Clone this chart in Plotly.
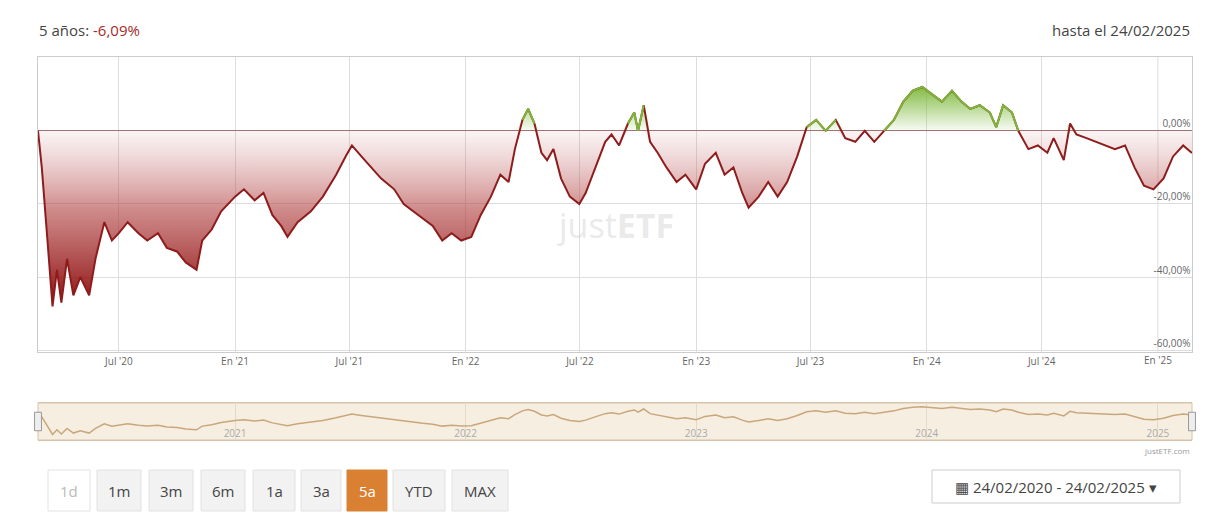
import plotly.graph_objects as go
import numpy as np

dates = ["2020-02-24","2020-03-01","2020-03-10","2020-03-18","2020-03-25","2020-04-01","2020-04-10","2020-04-20","2020-05-01","2020-05-15","2020-05-25","2020-06-08","2020-06-20","2020-07-01","2020-07-15","2020-08-01","2020-08-15","2020-09-01","2020-09-15","2020-10-01","2020-10-15","2020-11-01","2020-11-10","2020-11-25","2020-12-10","2021-01-01","2021-01-15","2021-02-01","2021-02-15","2021-03-01","2021-03-15","2021-03-25","2021-04-10","2021-05-01","2021-05-20","2021-06-10","2021-06-25","2021-07-05","2021-07-20","2021-08-05","2021-08-20","2021-09-10","2021-09-25","2021-10-10","2021-10-25","2021-11-10","2021-11-25","2021-12-10","2021-12-25","2022-01-10","2022-01-25","2022-02-10","2022-02-25","2022-03-10","2022-03-20","2022-04-01","2022-04-10","2022-04-20","2022-05-01","2022-05-10","2022-05-20","2022-06-01","2022-06-15","2022-06-30","2022-07-10","2022-07-25","2022-08-10","2022-08-20","2022-09-01","2022-09-15","2022-09-25","2022-10-01","2022-10-10","2022-10-20","2022-11-01","2022-11-15","2022-12-01","2022-12-15","2023-01-01","2023-01-15","2023-02-01","2023-02-15","2023-03-01","2023-03-15","2023-03-25","2023-04-10","2023-04-25","2023-05-10","2023-05-25","2023-06-10","2023-06-25","2023-07-10","2023-07-25","2023-08-10","2023-08-25","2023-09-10","2023-09-25","2023-10-10","2023-10-25","2023-11-10","2023-11-25","2023-12-10","2023-12-25","2024-01-10","2024-01-25","2024-02-10","2024-02-25","2024-03-10","2024-03-25","2024-04-10","2024-04-20","2024-05-01","2024-05-15","2024-05-25","2024-06-10","2024-06-25","2024-07-10","2024-07-20","2024-08-05","2024-08-15","2024-08-25","2024-09-10","2024-09-25","2024-10-10","2024-10-25","2024-11-10","2024-11-25","2024-12-10","2024-12-25","2025-01-10","2025-01-25","2025-02-10","2025-02-24"]
values = [0,-10,-30,-48,-38,-47,-35,-45,-40,-45,-35,-25,-30,-28,-25,-28,-30,-28,-32,-33,-36,-38,-30,-27,-22,-18,-16,-19,-17,-23,-26,-29,-25,-22,-18,-12,-7,-4,-7,-10,-13,-16,-20,-22,-24,-26,-30,-28,-30,-29,-23,-18,-12,-14,-5,3,6,2,-6,-8,-5,-13,-18,-20,-17,-10,-3,-1,-4,2,5,0,7,-3,-6,-10,-14,-12,-16,-9,-6,-12,-10,-17,-21,-18,-14,-18,-14,-7,1,3,0,3,-2,-3,0,-3,0,3,8,11,12,10,8,11,8,6,7,5,1,7,5,0,-5,-4,-6,-2,-8,2,-1,-2,-3,-4,-5,-4,-10,-15,-16,-13,-7,-4,-6.09]
tick_vals = ["2020-07-01","2021-01-01","2021-07-01","2022-01-01","2022-07-01","2023-01-01","2023-07-01","2024-01-01","2024-07-01","2025-01-01"]
tick_text = ["Jul '20","En '21","Jul '21","En '22","Jul '22","En '23","Jul '23","En '24","Jul '24","En '25"]
nav_ticks = ["2021-01-01","2022-01-01","2023-01-01","2024-01-01","2025-01-01"]
nav_text = ["2021","2022","2023","2024","2025"]
y_ticks = [0,-20,-40,-60]
y_text = ["0,00%","-20,00%","-40,00%","-60,00%"]
buttons = ["1d","1m","3m","6m","1a","3a","5a","YTD","MAX"]

RED = "#8e1c1c"; GREEN = "#7cb83a"
v = np.array(values, dtype=float)
neg = np.minimum(v, 0); pos = np.maximum(v, 0)
green_line = [x if x >= 0 else None for x in v]

OFF = 8
W, H = 1214 - 2*OFF, 520 - 2*OFF
L, R = 38 - OFF, 1192 - OFF
PW = R - L
def px(x): return (x - OFF - L) / PW
def py(y): return 1 - (y - OFF) / H

fig = go.Figure()
fig.add_trace(go.Scatter(x=dates, y=neg, mode="lines", line=dict(width=0), fill="tozeroy",
    fillgradient=dict(type="vertical", colorscale=[[0,"rgba(140,15,15,1)"],[0.55,"rgba(175,60,60,0.6)"],[1,"rgba(200,120,120,0.08)"]]),
    hoverinfo="skip"))
fig.add_trace(go.Scatter(x=dates, y=pos, mode="lines", line=dict(width=0), fill="tozeroy",
    fillgradient=dict(type="vertical", colorscale=[[0,"rgba(124,184,58,0.05)"],[1,"rgba(124,184,58,0.95)"]]),
    hoverinfo="skip"))
fig.add_trace(go.Scatter(x=dates, y=v, mode="lines", line=dict(color=RED, width=2)))
fig.add_trace(go.Scatter(x=dates, y=green_line, mode="lines", line=dict(color=GREEN, width=2), connectgaps=False))
fig.add_trace(go.Scatter(x=dates, y=v, mode="lines", line=dict(color="#c9a77c", width=1.5),
    xaxis="x2", yaxis="y2"))

fig.update_layout(
    width=W, height=H, showlegend=False,
    margin=dict(l=L, r=W - R, t=0, b=0), plot_bgcolor="white", paper_bgcolor="white",
    font=dict(family="Open Sans", color="#555"),
    xaxis=dict(domain=[0,1], range=["2020-02-24","2025-02-24"], tickmode="array", tickvals=tick_vals[:-1], ticktext=tick_text[:-1],
               showgrid=True, gridcolor="#ddd", tickfont=dict(size=10, color="#666"),
               showline=True, linecolor="#ccc", mirror=True, ticks=""),
    yaxis=dict(domain=[py(352), py(57)], range=[-60.5,20.2], side="right", tickvals=y_ticks, ticktext=y_text,
               ticklabelposition="inside top", tickfont=dict(size=10, color="#666"),
               showgrid=True, gridcolor="#ddd", zeroline=True, zerolinecolor="#a07070", zerolinewidth=1,
               showline=True, linecolor="#ccc", mirror=True),
    xaxis2=dict(domain=[0,1], anchor="y2", range=["2020-02-24","2025-02-24"], tickvals=nav_ticks, ticktext=nav_text,
                ticklabelposition="inside", tickfont=dict(size=10, color="#aaa"), showgrid=True, gridcolor="#e6d9c6",
                showline=True, linecolor="#d8c4a8", mirror=True),
    yaxis2=dict(domain=[py(440), py(403)], anchor="x2", range=[-60,20], showticklabels=False, showgrid=False, zeroline=False),
)
fig.add_shape(type="line", xref="x", yref="y domain", x0=tick_vals[-1], x1=tick_vals[-1], y0=0, y1=1,
              line=dict(color="#ddd", width=1), layer="below")
fig.add_annotation(xref="x", yref="paper", x=tick_vals[-1], y=py(360), yanchor="middle", showarrow=False,
                   text=tick_text[-1], font=dict(size=10, color="#666"))

fig.add_shape(type="rect", xref="x2 domain", yref="y2 domain", x0=0, x1=1, y0=0, y1=1,
              fillcolor="rgba(230,205,170,0.35)", line=dict(color="#d8c4a8", width=1), layer="below")
for xx in [0, 1]:
    fig.add_shape(type="rect", xref="x2 domain", yref="y2 domain", x0=xx-0.003, x1=xx+0.003, y0=0.25, y1=0.75,
                  fillcolor="#eee", line=dict(color="#999", width=1))

fig.add_annotation(xref="paper", yref="paper", x=px(37), y=py(30), xanchor="left", yanchor="middle", showarrow=False,
    text="5 años: <span style='color:#a52a2a'>-6,09%</span>", font=dict(size=15, color="#444"))
fig.add_annotation(xref="paper", yref="paper", x=px(1192), y=py(30), xanchor="right", yanchor="middle", showarrow=False,
    text="hasta el 24/02/2025", font=dict(size=15, color="#444"))
fig.add_annotation(xref="paper", yref="paper", x=px(615), y=py(225), xanchor="center", showarrow=False,
    text="just<b>ETF</b>", font=dict(size=34, color="rgba(200,200,200,0.4)"))
fig.add_annotation(xref="paper", yref="paper", x=px(1192), y=py(443), xanchor="right", yanchor="top", showarrow=False,
    text="justETF.com", font=dict(size=8, color="#999"))

bx = [(48,90),(97,141),(149,193),(201,245),(253,295),(301,341),(347,387),(393,445),(452,508)]
for lbl, (a, b) in zip(buttons, bx):
    active = lbl == "5a"
    fig.add_shape(type="rect", xref="paper", yref="paper", x0=px(a), x1=px(b), y0=py(511), y1=py(470),
                  fillcolor="#d98032" if active else ("#fff" if lbl=="1d" else "#f2f2f2"),
                  line=dict(color="#d98032" if active else "#e2e2e2", width=1))
    fig.add_annotation(xref="paper", yref="paper", x=px((a+b)/2), y=py(490.5), xanchor="center", yanchor="middle",
                       showarrow=False, text=lbl,
                       font=dict(size=15, color="#fff" if active else ("#bbb" if lbl=="1d" else "#444")))
fig.add_shape(type="rect", xref="paper", yref="paper", x0=px(932), x1=px(1180), y0=py(503), y1=py(470),
              fillcolor="#fff", line=dict(color="#ccc", width=1))
fig.add_annotation(xref="paper", yref="paper", x=px(1056), y=py(487), xanchor="center", yanchor="middle", showarrow=False,
                   text="▦ 24/02/2020 - 24/02/2025 ▾", font=dict(size=15, color="#444"))
fig.write_html("out.html")
